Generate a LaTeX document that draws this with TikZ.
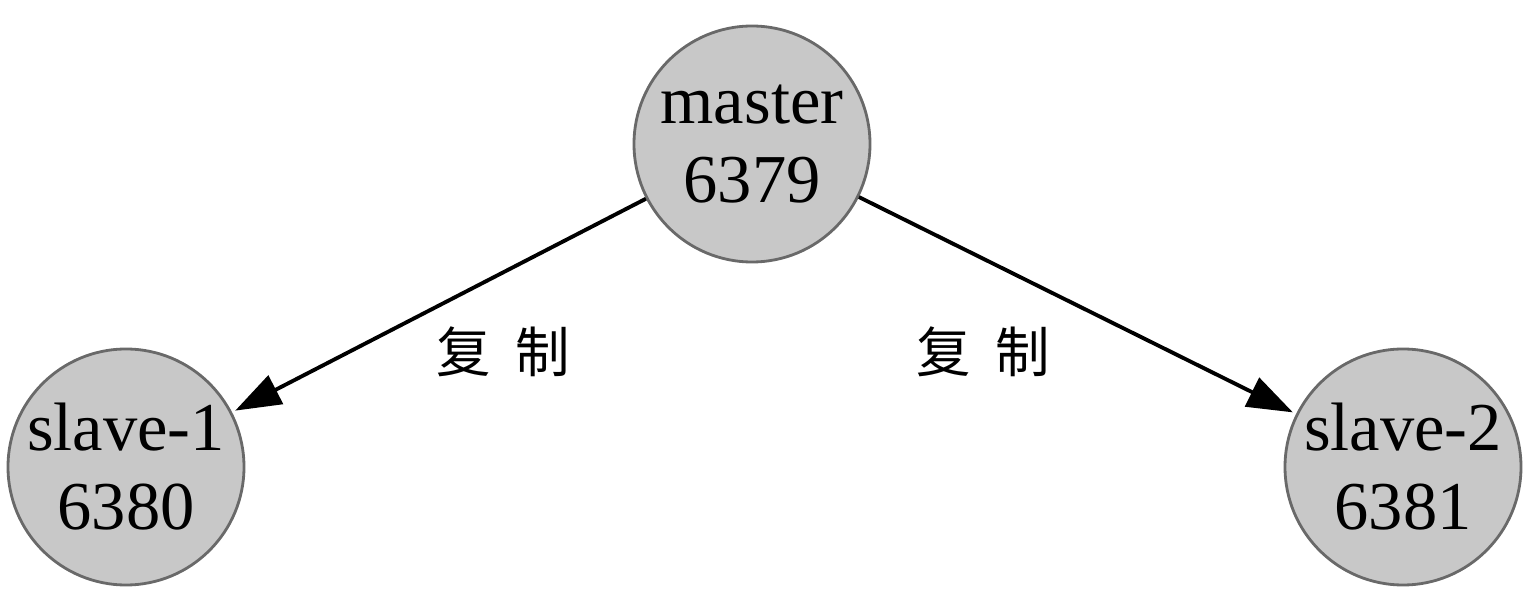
\documentclass[tikz,border=0pt]{standalone}
\usepackage{fontspec}
\setmainfont{Liberation Serif}
\newfontfamily\cjk{Noto Sans CJK SC}
\usetikzlibrary{positioning,arrows.meta}

\definecolor{nodegray}{RGB}{200,200,200}
\definecolor{rimgray}{RGB}{105,105,105}

\begin{document}
\begin{tikzpicture}
    [%%%%%%%%%%%%%%%%%%%%%%%%%%%%%%
    redis/.style={circle,draw=rimgray,fill=nodegray,line width=0.8pt,minimum size=2.36cm,inner sep=0pt,align=center,font=\fontsize{19.5}{22.5}\selectfont},
    copyarrow/.style={-{Triangle[length=13pt,width=9pt]},line width=1.1pt,shorten >=1pt},
    copytext/.style={font=\cjk\fontsize{15.5}{15.5}\selectfont},
    ]%%%%%%%%%%%%%%%%%%%%%%%%%%%%%%

    \useasboundingbox (0,0) rectangle (15.32,6.06);

    % master
    \node[redis] at (7.52,4.62) (master) {master\\6379};

    % slaves
    \node[redis] at (1.26,1.39) (slave1) {slave-1\\6380};
    \node[redis] at (14.03,1.39) (slave2) {slave-2\\6381};

    % replication
    \draw [copyarrow](master) -- (slave1);
    \draw [copyarrow](master) -- (slave2);
    \node[copytext] at (5.03,2.54) (copy1) {复\hspace{0.45em}制};
    \node[copytext] at (9.83,2.54) (copy2) {复\hspace{0.45em}制};

\end{tikzpicture}
\end{document}
